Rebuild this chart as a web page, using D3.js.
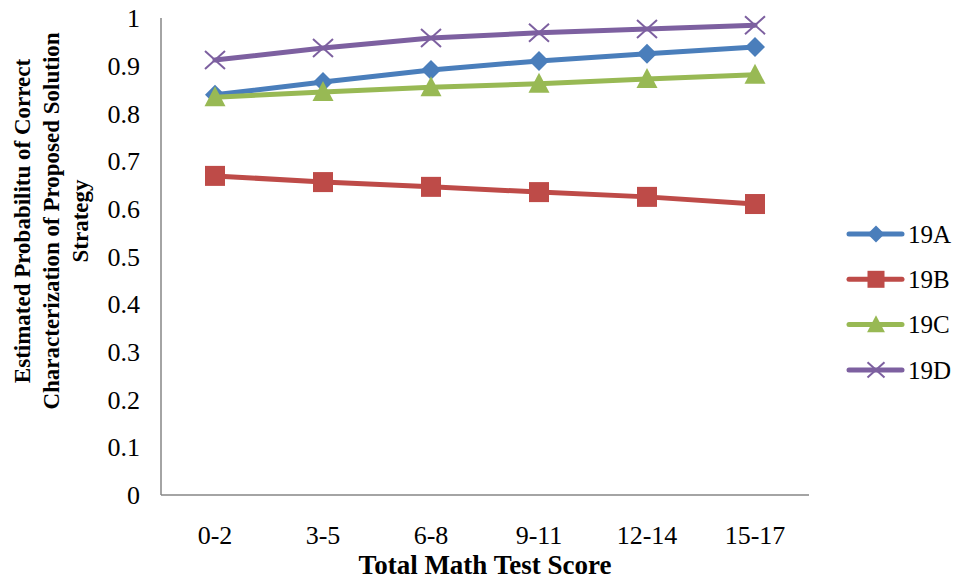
<!DOCTYPE html>
<html><head><meta charset="utf-8">
<script src="https://cdn.jsdelivr.net/npm/d3@7"></script>
<style>body{margin:0;background:#fff}svg{display:block}</style>
</head><body><svg id="c" width="955" height="579" font-family="'Liberation Serif', 'Times New Roman', Times, 'DejaVu Serif', serif"></svg>
<script>
const categories = ["0-2","3-5","6-8","9-11","12-14","15-17"];
const s19A = [0.839,0.866,0.891,0.910,0.925,0.939];
const s19B = [0.669,0.656,0.646,0.635,0.625,0.610];
const s19C = [0.834,0.845,0.855,0.862,0.872,0.881];
const s19D = [0.912,0.937,0.958,0.969,0.977,0.985];
const seriesNames = ["19A","19B","19C","19D"];
const yTicks = [0,0.1,0.2,0.3,0.4,0.5,0.6,0.7,0.8,0.9,1];
const series = [
  {name:seriesNames[0], values:s19A, color:"#4A7EBB", marker:"diamond"},
  {name:seriesNames[1], values:s19B, color:"#BE4B48", marker:"square"},
  {name:seriesNames[2], values:s19C, color:"#98B954", marker:"triangle"},
  {name:seriesNames[3], values:s19D, color:"#7D60A0", marker:"x"}
];
const svg = d3.select("#c");
const L=161, R=809, T=18, B=495;
const x = d3.scalePoint().domain(categories).range([L,R]).padding(0.5);
const y = d3.scaleLinear().domain([0,1]).range([B,T]);

svg.append("line").attr("x1",L).attr("x2",L).attr("y1",T).attr("y2",B).attr("stroke","#868686").attr("stroke-width",1.5);
svg.append("line").attr("x1",L).attr("x2",R).attr("y1",B).attr("y2",B).attr("stroke","#868686").attr("stroke-width",1.5);
svg.append("g").selectAll("text").data(yTicks).join("text")
  .attr("x",140).attr("y",d=>y(d)).attr("dy","0.35em").attr("text-anchor","end")
  .attr("font-size",26).text(d=>d3.format("~g")(d));
svg.append("g").selectAll("text").data(categories).join("text")
  .attr("x",d=>x(d)).attr("y",535).attr("dy","0.35em").attr("text-anchor","middle")
  .attr("font-size",26).text(d=>d);
svg.append("text").attr("x",485).attr("y",565).attr("dy","0.35em").attr("text-anchor","middle")
  .attr("font-size",27).attr("font-weight","bold").text("Total Math Test Score");
const yl = svg.append("text").attr("transform","translate(0,221) rotate(-90)").attr("text-anchor","middle")
  .attr("font-size",23).attr("font-weight","bold");
yl.append("tspan").attr("x",0).attr("y",30).text("Estimated Probabilitu of Correct");
yl.append("tspan").attr("x",0).attr("y",59).text("Characterization of Proposed Solution");
yl.append("tspan").attr("x",0).attr("y",88).text("Strategy");

function drawMarker(g, type, color, k){
  if(type==="diamond") g.append("path").attr("d",`M0,${-10*k}L${10*k},0L0,${10*k}L${-10*k},0Z`).attr("fill",color);
  else if(type==="square") g.append("rect").attr("x",-10*k).attr("y",-10*k).attr("width",20*k).attr("height",20*k).attr("fill",color);
  else if(type==="triangle") g.append("path").attr("d",`M0,${-11*k}L${10.5*k},${9*k}L${-10.5*k},${9*k}Z`).attr("fill",color);
  else g.append("path").attr("d",`M${-10*k},${-9*k}L${10*k},${9*k}M${-10*k},${9*k}L${10*k},${-9*k}`).attr("stroke",color).attr("stroke-width",2).attr("fill","none");
}
const line = d3.line().x((d,i)=>x(categories[i])).y(d=>y(d));
series.forEach(s=>{
  svg.append("path").attr("d",line(s.values)).attr("fill","none").attr("stroke",s.color).attr("stroke-width",5).attr("stroke-linejoin","round").attr("stroke-linecap","round");
  s.values.forEach((v,i)=>{
    drawMarker(svg.append("g").attr("transform",`translate(${x(categories[i])},${y(v)})`), s.marker, s.color, 1);
  });
});
const lg = svg.append("g");
series.forEach((s,i)=>{
  const ly = 234 + i*45.3;
  lg.append("line").attr("x1",849).attr("x2",902).attr("y1",ly).attr("y2",ly).attr("stroke",s.color).attr("stroke-width",5).attr("stroke-linecap","round");
  drawMarker(lg.append("g").attr("transform",`translate(876,${ly})`), s.marker, s.color, 0.85);
  lg.append("text").attr("x",908).attr("y",ly).attr("dy","0.35em").attr("font-size",25).text(s.name);
});
</script></body></html>
